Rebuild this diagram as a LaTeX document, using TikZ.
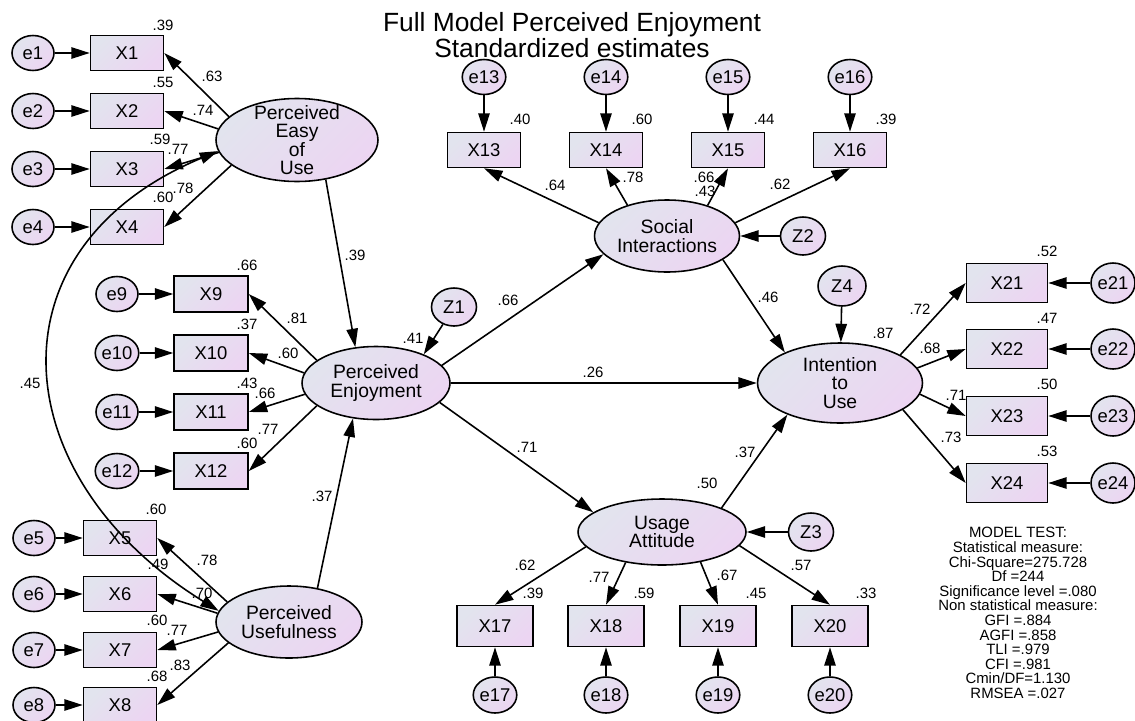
\documentclass[tikz,border=0pt]{standalone}
\usepackage{fontspec}
\setmainfont{Liberation Sans}
\usetikzlibrary{shapes.geometric, arrows.meta}
\definecolor{fillA}{RGB}{226,228,238}
\definecolor{fillB}{RGB}{236,213,242}

\begin{document}
\begin{tikzpicture}[x=0.02cm, y=-0.02cm, line width=0.9pt, >={Triangle[length=10.5pt, width=6.5pt]},
    obs/.style={rectangle, draw, top color=fillA, bottom color=fillB, shading angle=45, minimum width=1.46cm, minimum height=0.7cm, inner sep=0pt, font=\fontsize{10.5}{12}\selectfont},
    lat/.style={ellipse, draw, top color=fillA, bottom color=fillB, shading angle=45, inner sep=0pt, align=center, font=\fontsize{11}{10.5}\selectfont},
    err/.style={ellipse, draw, top color=fillA, bottom color=fillB, shading angle=45, minimum width=0.84cm, minimum height=0.7cm, inner sep=0pt, font=\fontsize{10.5}{12}\selectfont},
    dist/.style={err, minimum width=0.9cm, minimum height=0.76cm},
    num/.style={inner sep=0pt, font=\fontsize{8.5}{10}\selectfont}]
    \useasboundingbox (0, 0) rectangle (1135, 720);

    \node[align=center, font=\fontsize{15}{12.5}\selectfont] (title) at (572, 35) {Full Model Perceived Enjoyment\\Standardized estimates};

    % latent variables
    \node[lat, minimum width=3.24cm, minimum height=1.66cm, inner ysep=-3.5pt] (peou) at (297, 140) {Perceived\\Easy\\of\\Use};
    \node[lat, minimum width=2.96cm, minimum height=1.46cm] (pe) at (376, 383) {Perceived\\Enjoyment};
    \node[lat, minimum width=2.92cm, minimum height=1.44cm] (pu) at (289, 622) {Perceived\\Usefulness};
    \node[lat, minimum width=2.9cm, minimum height=1.44cm] (si) at (667, 236) {Social\\Interactions};
    \node[lat, minimum width=3.36cm, minimum height=1.32cm] (ua) at (662, 532) {Usage\\Attitude};
    \node[lat, minimum width=3.3cm, minimum height=1.6cm] (iu) at (840, 383) {Intention\\to\\Use};

    \node[dist] (z1) at (454, 307) {Z1};
    \node[dist] (z2) at (803, 236) {Z2};
    \node[dist] (z3) at (811, 532) {Z3};
    \node[dist, minimum width=0.96cm, minimum height=0.8cm] (z4) at (842, 286) {Z4};

    % observed variables, left
    \node[obs] (x1) at (127, 53) {X1};
    \node[obs] (x2) at (127, 111) {X2};
    \node[obs] (x3) at (127, 169) {X3};
    \node[obs] (x4) at (127, 227) {X4};
    \node[err] (e1) at (33, 53) {e1};
    \node[err] (e2) at (33, 111) {e2};
    \node[err] (e3) at (33, 169) {e3};
    \node[err] (e4) at (33, 227) {e4};

    \node[obs] (x5) at (120, 538) {X5};
    \node[obs] (x6) at (120, 594) {X6};
    \node[obs] (x7) at (120, 650) {X7};
    \node[obs] (x8) at (120, 705) {X8};
    \node[err] (e5) at (34, 538) {e5};
    \node[err] (e6) at (34, 594) {e6};
    \node[err] (e7) at (34, 650) {e7};
    \node[err] (e8) at (34, 705) {e8};

    \node[obs, minimum width=1.48cm, minimum height=0.72cm] (x9) at (211, 294) {X9};
    \node[obs, minimum width=1.48cm, minimum height=0.72cm] (x10) at (211, 353) {X10};
    \node[obs, minimum width=1.48cm, minimum height=0.72cm] (x11) at (211, 412) {X11};
    \node[obs, minimum width=1.48cm, minimum height=0.72cm] (x12) at (211, 471) {X12};
    \node[err] (e9) at (117, 294) {e9};
    \node[err] (e10) at (117, 353) {e10};
    \node[err] (e11) at (117, 412) {e11};
    \node[err] (e12) at (117, 471) {e12};

    % observed variables, top
    \node[obs] (x13) at (484, 150) {X13};
    \node[obs] (x14) at (606, 150) {X14};
    \node[obs] (x15) at (728, 150) {X15};
    \node[obs] (x16) at (850, 150) {X16};
    \node[err] (e13) at (484, 77) {e13};
    \node[err] (e14) at (606, 77) {e14};
    \node[err] (e15) at (728, 77) {e15};
    \node[err] (e16) at (850, 77) {e16};

    % observed variables, bottom
    \node[obs, minimum width=1.52cm, minimum height=0.82cm] (x17) at (495, 626) {X17};
    \node[obs, minimum width=1.52cm, minimum height=0.82cm] (x18) at (606, 626) {X18};
    \node[obs, minimum width=1.52cm, minimum height=0.82cm] (x19) at (718, 626) {X19};
    \node[obs, minimum width=1.52cm, minimum height=0.82cm] (x20) at (830, 626) {X20};
    \node[err, minimum width=0.8cm, minimum height=0.72cm] (e17) at (495, 695) {e17};
    \node[err, minimum width=0.8cm, minimum height=0.72cm] (e18) at (606, 695) {e18};
    \node[err, minimum width=0.8cm, minimum height=0.72cm] (e19) at (718, 695) {e19};
    \node[err, minimum width=0.8cm, minimum height=0.72cm] (e20) at (830, 695) {e20};

    % observed variables, right
    \node[obs, minimum width=1.62cm, minimum height=0.78cm] (x21) at (1007, 283) {X21};
    \node[obs, minimum width=1.62cm, minimum height=0.78cm] (x22) at (1007, 349) {X22};
    \node[obs, minimum width=1.62cm, minimum height=0.78cm] (x23) at (1007, 416) {X23};
    \node[obs, minimum width=1.62cm, minimum height=0.78cm] (x24) at (1007, 483) {X24};
    \node[err, minimum width=0.88cm, minimum height=0.8cm] (e21) at (1113, 283) {e21};
    \node[err, minimum width=0.88cm, minimum height=0.8cm] (e22) at (1113, 349) {e22};
    \node[err, minimum width=0.88cm, minimum height=0.8cm] (e23) at (1113, 416) {e23};
    \node[err, minimum width=0.88cm, minimum height=0.8cm] (e24) at (1113, 483) {e24};

    % error arrows
    \path (e1) edge[->] (x1);
    \path (e2) edge[->] (x2);
    \path (e3) edge[->] (x3);
    \path (e4) edge[->] (x4);
    \path (e5) edge[->] (x5);
    \path (e6) edge[->] (x6);
    \path (e7) edge[->] (x7);
    \path (e8) edge[->] (x8);
    \path (e9) edge[->] (x9);
    \path (e10) edge[->] (x10);
    \path (e11) edge[->] (x11);
    \path (e12) edge[->] (x12);
    \path (e13) edge[->] (x13);
    \path (e14) edge[->] (x14);
    \path (e15) edge[->] (x15);
    \path (e16) edge[->] (x16);
    \path (e17) edge[->] (x17);
    \path (e18) edge[->] (x18);
    \path (e19) edge[->] (x19);
    \path (e20) edge[->] (x20);
    \path (e21) edge[->] (x21);
    \path (e22) edge[->] (x22);
    \path (e23) edge[->] (x23);
    \path (e24) edge[->] (x24);

    % loadings
    \path (peou.161) edge[->] (x1.east);
    \path (peou.172) edge[->] (x2.east);
    \path (peou.189) edge[->] (x3.east);
    \path (peou.201) edge[->] (x4.east);
    \path (pu.162) edge[->] (x5.east);
    \path (pu.173) edge[->] (x6.east);
    \path (pu.188) edge[->] (x7.east);
    \path (pu.199) edge[->] (x8.east);
    \path (pe.159) edge[->] (x9.east);
    \path (pe.172) edge[->] (x10.east);
    \path (pe.189) edge[->] (x11.east);
    \path (pe.201) edge[->] (x12.east);
    \path (si.169) edge[->] (x13.south);
    \path (si.142) edge[->] (x14.south);
    \path (si.37) edge[->] (x15.south);
    \path (si.11) edge[->] (x16.south);
    \path (ua.191) edge[->] (x17.north);
    \path (ua.220) edge[->] (x18.north);
    \path (ua.322) edge[->] (x19.north);
    \path (ua.350) edge[->] (x20.north);
    \path (iu.25) edge[->] (x21.west);
    \path (iu.11) edge[->] (x22.west);
    \path (iu.352) edge[->] (x23.west);
    \path (iu.337) edge[->] (x24.west);

    % structural paths
    \path (peou.306) edge[->] (pe.120);
    \path (pu.50) edge[->] (pe.237);
    \path (z1) edge[->] (pe.31);
    \path (pe.15) edge[->] (si.196);
    \path (pe) edge[->] (iu);
    \path (pe.343) edge[->] (ua.164);
    \path (si.337) edge[->] (iu.151);
    \path (ua.22) edge[->] (iu.211);
    \path (z2) edge[->] (si);
    \path (z3) edge[->] (ua);
    \path (z4) edge[->] (iu);
    \draw[<->] (peou.188) .. controls (-16, 249) and (4, 478) .. (pu.171);

    % estimates
    \node[num] (r1) at (163, 25) {.39};
    \node[num] (r2) at (163, 82) {.55};
    \node[num] (r3) at (160, 139) {.59};
    \node[num] (r4) at (163, 197) {.60};
    \node[num] (l1) at (212, 76) {.63};
    \node[num] (l2) at (203, 110) {.74};
    \node[num] (l3) at (178, 149) {.77};
    \node[num] (l4) at (183, 188) {.78};
    \node[num] (r5) at (156, 509) {.60};
    \node[num] (r6) at (158, 564) {.49};
    \node[num] (r7) at (157, 620) {.60};
    \node[num] (r8) at (157, 676) {.68};
    \node[num] (l5) at (207, 560) {.78};
    \node[num] (l6) at (202, 593) {.70};
    \node[num] (l7) at (177, 630) {.77};
    \node[num] (l8) at (180, 665) {.83};
    \node[num] (r9) at (247, 265) {.66};
    \node[num] (r10) at (247, 324) {.37};
    \node[num] (r11) at (247, 383) {.43};
    \node[num] (r12) at (247, 443) {.60};
    \node[num] (l9) at (297, 318) {.81};
    \node[num] (l10) at (288, 353) {.60};
    \node[num] (l11) at (265, 393) {.66};
    \node[num] (l12) at (268, 429) {.77};
    \node[num] (r13) at (520, 119) {.40};
    \node[num] (r14) at (642, 119) {.60};
    \node[num] (r15) at (764, 119) {.44};
    \node[num] (r16) at (886, 119) {.39};
    \node[num] (l13) at (555, 185) {.64};
    \node[num] (l14) at (633, 177) {.78};
    \node[num] (l15) at (704, 177) {.66};
    \node[num] (l16) at (780, 184) {.62};
    \node[num] (r17) at (533, 593) {.39};
    \node[num] (r18) at (644, 593) {.59};
    \node[num] (r19) at (756, 593) {.45};
    \node[num] (r20) at (866, 593) {.33};
    \node[num] (l17) at (525, 565) {.62};
    \node[num] (l18) at (599, 577) {.77};
    \node[num] (l19) at (727, 575) {.67};
    \node[num] (l20) at (801, 565) {.57};
    \node[num] (r21) at (1047, 251) {.52};
    \node[num] (r22) at (1047, 318) {.47};
    \node[num] (r23) at (1047, 384) {.50};
    \node[num] (r24) at (1047, 451) {.53};
    \node[num] (l21) at (920, 309) {.72};
    \node[num] (l22) at (930, 348) {.68};
    \node[num] (l23) at (956, 395) {.71};
    \node[num] (l24) at (951, 437) {.73};
    \node[num] (rpe) at (413, 338) {.41};
    \node[num] (rsi) at (705, 191) {.43};
    \node[num] (rua) at (707, 483) {.50};
    \node[num] (riu) at (883, 333) {.87};
    \node[num] (c45) at (30, 383) {.45};
    \node[num] (p39) at (355, 255) {.39};
    \node[num] (p37) at (322, 496) {.37};
    \node[num] (p66) at (508, 300) {.66};
    \node[num] (p26) at (593, 372) {.26};
    \node[num] (p71) at (527, 447) {.71};
    \node[num] (p46) at (768, 297) {.46};
    \node[num] (p37b) at (745, 452) {.37};

    \node[align=center, font=\fontsize{8.5}{8.3}\selectfont] (test) at (1018, 613) {MODEL TEST:\\Statistical measure:\\Chi-Square=275.728\\Df =244\\Significance level =.080\\Non statistical measure:\\GFI =.884\\AGFI =.858\\TLI =.979\\CFI =.981\\Cmin/DF=1.130\\RMSEA =.027};
\end{tikzpicture}
\end{document}
